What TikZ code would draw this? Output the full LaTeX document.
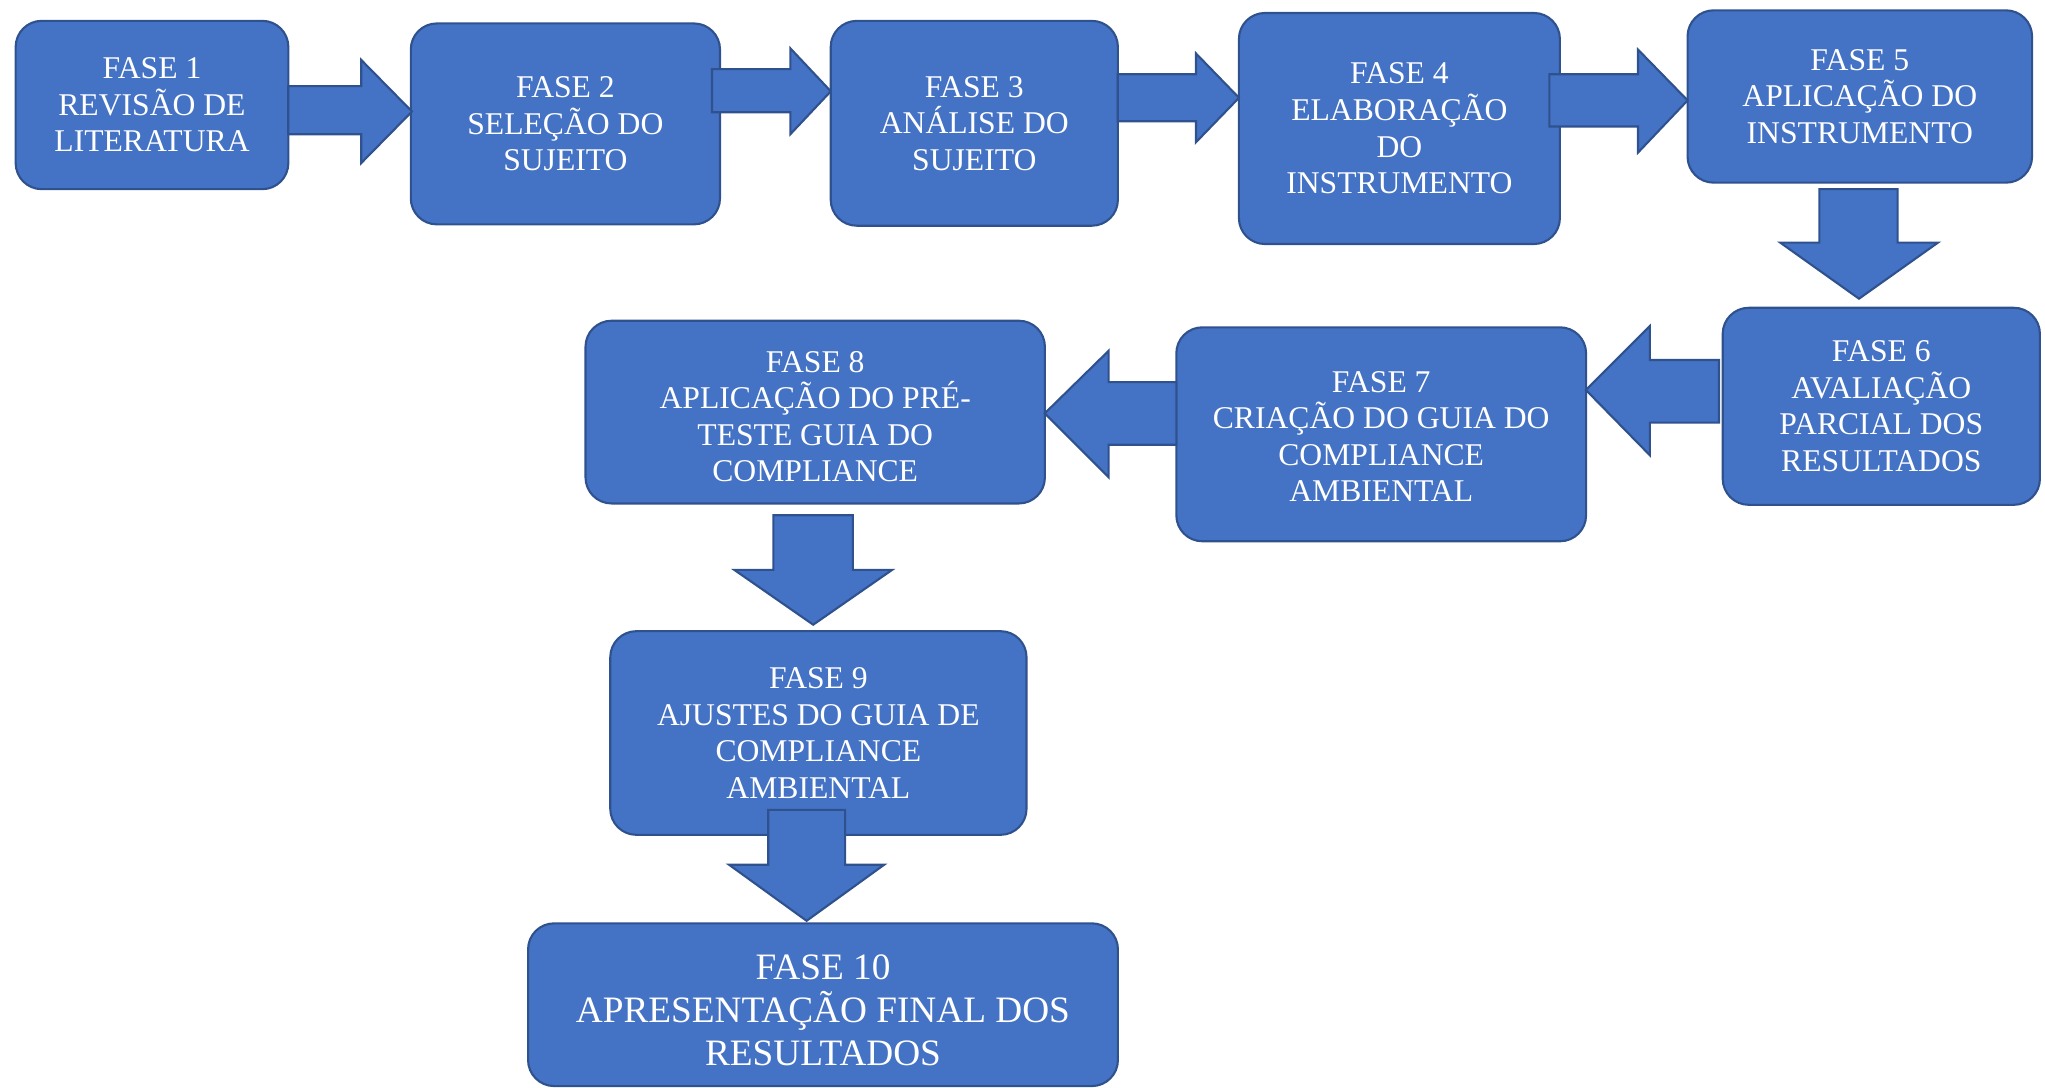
\documentclass[tikz,border=0pt]{standalone}
\usepackage{fontspec}
\setmainfont{Liberation Serif}
\definecolor{boxfill}{HTML}{4472C4}
\definecolor{boxline}{HTML}{2F528F}
\begin{document}
\begin{tikzpicture}[x=0.01cm,y=-0.01cm,
  box/.style={draw=boxline,fill=boxfill,line width=0.6pt,rounded corners=0.26cm,
    text=white,align=center,inner sep=0pt,font=\fontsize{9}{10.4}\selectfont},
  arr/.style={draw=boxline,fill=boxfill,line width=0.6pt,line join=miter}]
\useasboundingbox (0,0) rectangle (2045,1088);
% boxes
\node[box,minimum width=2.725cm,minimum height=1.682cm] (b1) at (152,105) {FASE 1\\REVISÃO DE\\LITERATURA};
\node[box,minimum width=3.09cm,minimum height=2.008cm] (b2) at (565.4,123.9) {FASE 2\\SELEÇÃO DO\\SUJEITO};
\node[box,minimum width=2.87cm,minimum height=2.047cm] (b3) at (974.3,123.3) {FASE 3\\ANÁLISE DO\\SUJEITO};
\node[box,minimum width=3.208cm,minimum height=2.309cm] (b4) at (1399.4,128.5) {FASE 4\\ELABORAÇÃO\\DO\\INSTRUMENTO};
\node[box,minimum width=3.443cm,minimum height=1.722cm] (b5) at (1859.8,96.5) {FASE 5\\APLICAÇÃO DO\\INSTRUMENTO};
\node[box,minimum width=3.17cm,minimum height=1.969cm] (b6) at (1881.3,406.3) {FASE 6\\AVALIAÇÃO\\PARCIAL DOS\\RESULTADOS};
\node[box,minimum width=4.095cm,minimum height=2.138cm] (b7) at (1381.2,434.3) {\rule{0pt}{7.2pt}FASE 7\\CRIAÇÃO DO GUIA DO\\COMPLIANCE\\AMBIENTAL};
\node[box,minimum width=4.591cm,minimum height=1.826cm] (b8) at (815.2,412.1) {\rule{0pt}{8.6pt}FASE 8\\APLICAÇÃO DO PRÉ-\\TESTE GUIA DO\\COMPLIANCE};
\node[box,minimum width=4.16cm,minimum height=2.035cm] (b9) at (818.4,733) {FASE 9\\AJUSTES DO GUIA DE\\COMPLIANCE\\AMBIENTAL};
\node[box,minimum width=5.895cm,minimum height=1.626cm,font=\fontsize{10.6}{12.2}\selectfont] (b10) at (823,1004.7) {\rule{0pt}{10pt}FASE 10\\APRESENTAÇÃO FINAL DOS\\RESULTADOS};
% block arrows
% 1 -> 2
\filldraw[arr] (288.2,86.1) -- (361.3,86.1) -- (361.3,60) -- (412,111.5) -- (361.3,163) -- (361.3,134.3) -- (288.2,134.3) -- cycle;
% 2 -> 3
\filldraw[arr] (712,69.1) -- (790.3,69.1) -- (790.3,48.3) -- (830.8,91.3) -- (790.3,134.3) -- (790.3,112.2) -- (712,112.2) -- cycle;
% 3 -> 4
\filldraw[arr] (1117.7,74.3) -- (1196,74.3) -- (1196,53.5) -- (1239,97.8) -- (1196,142.2) -- (1196,121.3) -- (1117.7,121.3) -- cycle;
% 4 -> 5
\filldraw[arr] (1549.4,74.3) -- (1638,74.3) -- (1638,49.6) -- (1687.6,100.4) -- (1638,152.6) -- (1638,126.5) -- (1549.4,126.5) -- cycle;
% 5 -> 6
\filldraw[arr] (1819.4,189.1) -- (1897.6,189.1) -- (1897.6,242.6) -- (1938,242.6) -- (1859,298.7) -- (1780.2,242.6) -- (1819.4,242.6) -- cycle;
% 6 -> 7
\filldraw[arr] (1719,360) -- (1649.8,360) -- (1649.8,326) -- (1585.9,390) -- (1649.8,455.2) -- (1649.8,422.6) -- (1719,422.6) -- cycle;
% 7 -> 8
\filldraw[arr] (1176.4,382.1) -- (1108.6,382.1) -- (1108.6,350.8) -- (1044.7,413.4) -- (1108.6,477.3) -- (1108.6,444.7) -- (1176.4,444.7) -- cycle;
% 8 -> 9
\filldraw[arr] (773.4,515.2) -- (852.9,515.2) -- (852.9,569.9) -- (892.1,569.9) -- (813.2,624.7) -- (734.3,569.9) -- (773.4,569.9) -- cycle;
% 9 -> 10
\filldraw[arr] (768.2,809.9) -- (845.1,809.9) -- (845.1,864.7) -- (884.2,864.7) -- (806.6,920.8) -- (729,864.7) -- (768.2,864.7) -- cycle;
\end{tikzpicture}
\end{document}
